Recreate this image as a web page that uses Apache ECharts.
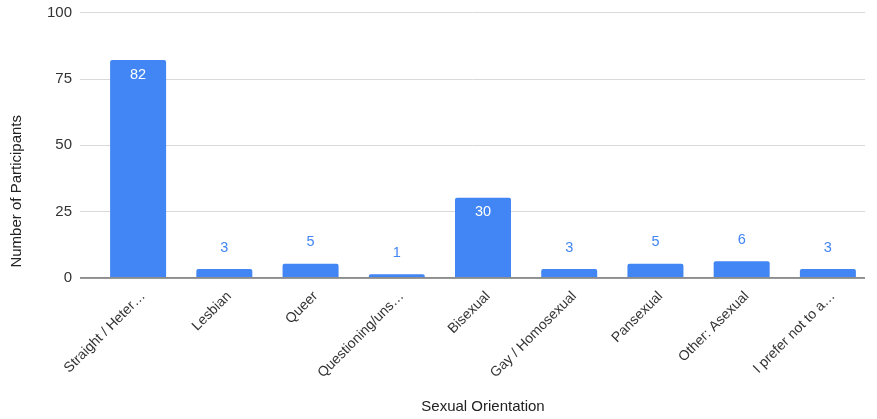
<!DOCTYPE html>
<html>
<head>
<meta charset="utf-8">
<script src="https://cdn.jsdelivr.net/npm/echarts@6/dist/echarts.min.js"></script>
<style>
  html, body { margin: 0; padding: 0; background: #fff; }
  #chart { width: 877px; height: 419px; }
</style>
</head>
<body>
<div id="chart"></div>
<script>
// 性取向统计
const categories = ['Straight / Heter…', 'Lesbian', 'Queer', 'Questioning/uns…', 'Bisexual',
  'Gay / Homosexual', 'Pansexual', 'Other: Asexual', 'I prefer not to a…'];
const counts = [82, 3, 5, 1, 30, 3, 5, 6, 3];
const yTicks = [0, 25, 50, 75, 100];

const blue = '#4285F4';
const font = 'Arial, "Liberation Sans", sans-serif';

let myChart = echarts.init(document.getElementById('chart'));
myChart.setOption({
  animation: false,
  textStyle: { fontFamily: font },
  grid: [
    { left: 80, right: 12, top: 12.5, bottom: 141 },
    { left: 95, right: 6, top: 12.5, bottom: 141 }
  ],
  xAxis: [
    { gridIndex: 0, type: 'value', show: false, min: 0, max: 1 },
    {
      gridIndex: 1,
      type: 'category',
      data: categories,
      name: 'Sexual Orientation',
      nameLocation: 'middle',
      nameGap: 122,
      nameTextStyle: { color: '#222', fontSize: 15, fontFamily: font },
      axisLine: { show: false },
      axisTick: { show: false },
      axisLabel: {
        rotate: 45, interval: 0, color: '#333', fontSize: 14, margin: 12,
        verticalAlign: 'top', fontFamily: font
      }
    }
  ],
  yAxis: [
    {
      gridIndex: 0,
      type: 'value',
      min: yTicks[0],
      max: yTicks[yTicks.length - 1],
      interval: 25,
      axisLine: { show: false },
      axisTick: { show: false },
      axisLabel: { color: '#333', fontSize: 15, margin: 8, fontFamily: font },
      splitLine: { lineStyle: { color: '#d9d9d9', width: 1 } }
    },
    {
      gridIndex: 1,
      type: 'value',
      min: yTicks[0],
      max: yTicks[yTicks.length - 1],
      interval: 25,
      show: false
    }
  ],
  graphic: [
    {
      type: 'text',
      left: 9,
      top: 115,
      rotation: Math.PI / 2,
      style: { text: 'Number of Participants', fill: '#222', font: '15px ' + font }
    }
  ],
  series: [
    {
      // baseline at 0
      type: 'line',
      xAxisIndex: 0,
      yAxisIndex: 0,
      data: [[0, 0], [1, 0]],
      symbol: 'none',
      lineStyle: { color: '#666', width: 1.5 },
      silent: true,
      z: 5
    },
    {
      type: 'bar',
      xAxisIndex: 1,
      yAxisIndex: 1,
      data: counts.map(v => ({
        value: v,
        label: v >= 20
          ? { position: 'insideTop', color: '#fff', distance: 7 }
          : { position: 'top', color: blue, distance: 14 }
      })),
      barWidth: 56,
      itemStyle: { color: blue, borderRadius: [2, 2, 0, 0] },
      label: { show: true, fontSize: 14.5, fontFamily: font },
      z: 3
    }
  ]
});
</script>
</body>
</html>
